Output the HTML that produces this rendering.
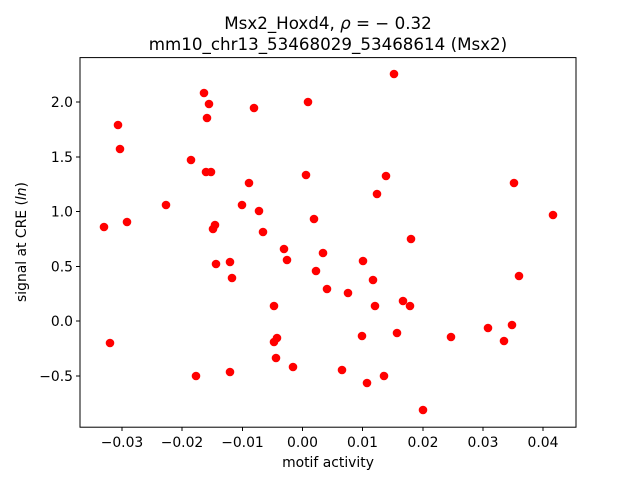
<!DOCTYPE html>
<html><head><meta charset="utf-8"><style>html,body{margin:0;padding:0;background:#fff}</style></head>
<body>
<svg width="640" height="480" xmlns="http://www.w3.org/2000/svg" font-family="'DejaVu Sans', 'Liberation Sans', sans-serif">
<rect width="640" height="480" fill="#fff"/>
<g fill="#ff0000">
<circle cx="104" cy="227" r="4.3"/><circle cx="110" cy="343" r="4.3"/><circle cx="118" cy="125" r="4.3"/><circle cx="120" cy="149" r="4.3"/><circle cx="127" cy="222" r="4.3"/><circle cx="166" cy="205" r="4.3"/><circle cx="191" cy="160" r="4.3"/><circle cx="196" cy="376" r="4.3"/><circle cx="204" cy="93" r="4.3"/><circle cx="206" cy="172" r="4.3"/><circle cx="209" cy="104" r="4.3"/><circle cx="207" cy="118" r="4.3"/><circle cx="211" cy="172" r="4.3"/><circle cx="213" cy="229" r="4.3"/><circle cx="215" cy="225" r="4.3"/><circle cx="216" cy="264" r="4.3"/><circle cx="230" cy="262" r="4.3"/><circle cx="230" cy="372" r="4.3"/><circle cx="232" cy="278" r="4.3"/><circle cx="242" cy="205" r="4.3"/><circle cx="249" cy="183" r="4.3"/><circle cx="254" cy="108" r="4.3"/><circle cx="259" cy="211" r="4.3"/><circle cx="263" cy="232" r="4.3"/><circle cx="274" cy="342" r="4.3"/><circle cx="274" cy="306" r="4.3"/><circle cx="277" cy="338" r="4.3"/><circle cx="276" cy="358" r="4.3"/><circle cx="284" cy="249" r="4.3"/><circle cx="287" cy="260" r="4.3"/><circle cx="293" cy="367" r="4.3"/><circle cx="306" cy="175" r="4.3"/><circle cx="308" cy="102" r="4.3"/><circle cx="314" cy="219" r="4.3"/><circle cx="316" cy="271" r="4.3"/><circle cx="323" cy="253" r="4.3"/><circle cx="327" cy="289" r="4.3"/><circle cx="342" cy="370" r="4.3"/><circle cx="348" cy="293" r="4.3"/><circle cx="363" cy="261" r="4.3"/><circle cx="362" cy="336" r="4.3"/><circle cx="367" cy="383" r="4.3"/><circle cx="373" cy="280" r="4.3"/><circle cx="375" cy="306" r="4.3"/><circle cx="377" cy="194" r="4.3"/><circle cx="384" cy="376" r="4.3"/><circle cx="386" cy="176" r="4.3"/><circle cx="394" cy="74" r="4.3"/><circle cx="397" cy="333" r="4.3"/><circle cx="403" cy="301" r="4.3"/><circle cx="410" cy="306" r="4.3"/><circle cx="411" cy="239" r="4.3"/><circle cx="423" cy="410" r="4.3"/><circle cx="451" cy="337" r="4.3"/><circle cx="488" cy="328" r="4.3"/><circle cx="504" cy="341" r="4.3"/><circle cx="512" cy="325" r="4.3"/><circle cx="514" cy="183" r="4.3"/><circle cx="519" cy="276" r="4.3"/><circle cx="553" cy="215" r="4.3"/>
</g>
<rect x="80" y="57.6" width="496" height="369.6" fill="none" stroke="#000" stroke-width="1"/>
<g stroke="#000" stroke-width="1">
<line x1="122" y1="427" x2="122" y2="431"/><line x1="182" y1="427" x2="182" y2="431"/><line x1="242.5" y1="427" x2="242.5" y2="431"/><line x1="302.5" y1="427" x2="302.5" y2="431"/><line x1="362.5" y1="427" x2="362.5" y2="431"/><line x1="423" y1="427" x2="423" y2="431"/><line x1="483" y1="427" x2="483" y2="431"/><line x1="543" y1="427" x2="543" y2="431"/>
<line x1="76" y1="376" x2="80" y2="376"/><line x1="76" y1="321" x2="80" y2="321"/><line x1="76" y1="266.5" x2="80" y2="266.5"/><line x1="76" y1="211.5" x2="80" y2="211.5"/><line x1="76" y1="157" x2="80" y2="157"/><line x1="76" y1="102" x2="80" y2="102"/>
</g>
<g font-size="13.9" text-anchor="middle" fill="#000">
<text x="122" y="447">−0.03</text><text x="182" y="447">−0.02</text><text x="242.5" y="447">−0.01</text><text x="302.5" y="447">0.00</text><text x="362.5" y="447">0.01</text><text x="423" y="447">0.02</text><text x="483" y="447">0.03</text><text x="543" y="447">0.04</text>
</g>
<g font-size="13.9" text-anchor="end" fill="#000">
<text x="73" y="381">−0.5</text><text x="73" y="326">0.0</text><text x="73" y="271.5">0.5</text><text x="73" y="216.5">1.0</text><text x="73" y="162">1.5</text><text x="73" y="107">2.0</text>
</g>
<text x="328" y="467" font-size="13.9" text-anchor="middle">motif activity</text>
<text transform="translate(26,242) rotate(-90)" font-size="13.9" text-anchor="middle">signal at CRE (<tspan font-style="italic">ln</tspan>)</text>
<text x="328" y="29" font-size="16.7" text-anchor="middle">Msx2_Hoxd4, <tspan font-style="italic">ρ</tspan> = − 0.32</text>
<text x="328" y="50" font-size="16.7" text-anchor="middle">mm10_chr13_53468029_53468614 (Msx2)</text>
</svg>
</body></html>
